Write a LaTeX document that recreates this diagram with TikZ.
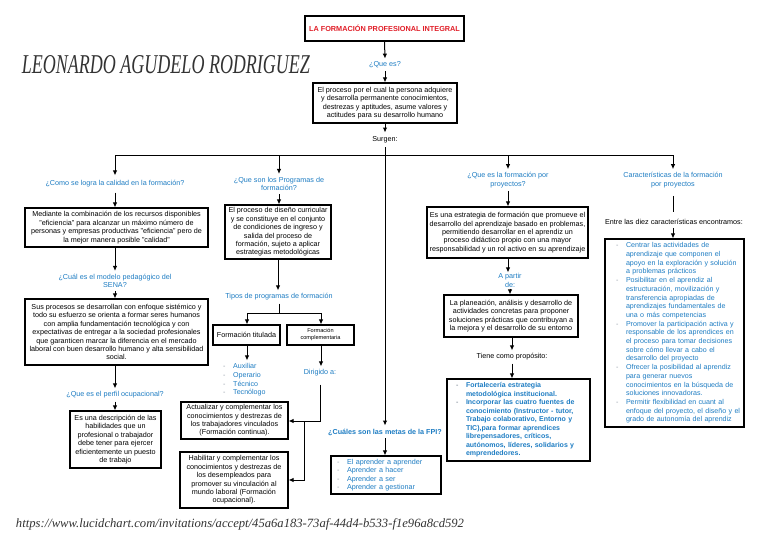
\documentclass[tikz,border=0pt]{standalone}
\usepackage{fontspec}
\setmainfont{Liberation Sans}
\newfontfamily\hand{Liberation Serif}
\usepackage{graphicx}
\usetikzlibrary{arrows.meta}
\definecolor{qblue}{RGB}{30,125,195}
\definecolor{tred}{RGB}{225,30,40}
\definecolor{bgray}{RGB}{150,160,170}
\newcommand\fs{\fontsize{7.2}{8.4}\selectfont}
\newcommand\fsl{\fontsize{7.1}{8.7}\selectfont}
\newcommand\itm[1]{\mbox{\makebox[10pt][l]{\textcolor{bgray}{-}}#1}}
\newcommand\cnt[1]{\mbox{\hspace*{10pt}#1}}
\begin{document}
\begin{tikzpicture}[x=1pt,y=-1pt,
  box/.style={draw, line width=1.1pt, align=center, font=\fs, inner sep=0pt},
  lstbox/.style={draw, line width=1.1pt, align=left, text=qblue, inner ysep=0pt},
  qlab/.style={font=\fs, text=qblue, align=center, inner sep=3pt},
  lab/.style={font=\fs, align=center, inner sep=3pt},
  arr/.style={line width=1pt, -{Latex[length=5pt,width=4.5pt]}},
  con/.style={line width=1pt}
]
\useasboundingbox (0,0) rectangle (768,543);
\fill[white] (0,0) rectangle (768,543);

% header
\node[box, minimum width=159, minimum height=25, font=\fontsize{7.3}{8.4}\selectfont\bfseries, text=tred] (title) at (384.5,28.5) {LA FORMACIÓN PROFESIONAL INTEGRAL};
\node[text=black!80] (name) at (166,65) {\resizebox{288pt}{18pt}{\hand\itshape LEONARDO AGUDELO RODRIGUEZ}};
\node[qlab] (q1) at (385,65) {¿Que es?};
\node[box, minimum width=144, minimum height=40] (b1) at (385,103) {El proceso por el cual la persona adquiere\\y desarrolla permanente conocimientos,\\destrezas y aptitudes, asume valores y\\actitudes para su desarrollo humano};
\node[lab, inner sep=4pt] (surgen) at (385,140) {Surgen:};

\draw[arr] (title.south) -- (q1.north);
\draw[arr] (q1.south) -- (b1.north);
\draw[arr] (b1.south) -- (surgen.north);

\coordinate (busC) at (385,155);
\coordinate (busL) at (115,155);
\coordinate (busB) at (279,155);
\coordinate (busD) at (508,155);
\coordinate (busR) at (673,155);
\draw[con] (surgen.south) -- (busC);
\draw[con] (busL) -- (busR);

% column 1
\node[qlab, inner sep=5pt] (qA) at (115,184) {¿Como se logra la calidad en la formación?};
\node[box, minimum width=183, minimum height=39] (bA1) at (116.5,227.5) {Mediante la combinación de los recursos disponibles\\"eficiencia" para alcanzar un máximo número de\\personas y empresas productivas "eficiencia" pero de\\la mejor manera posible "calidad"};
\node[qlab] (qA2) at (115,281) {¿Cuál es el modelo pedagógico del\\SENA?};
\node[box, minimum width=183, minimum height=66] (bA2) at (116.5,332) {Sus procesos se desarrollan con enfoque sistémico y\\todo su esfuerzo se orienta a formar seres humanos\\con amplia fundamentación tecnológica y con\\expectativas de entregar a la sociedad profesionales\\que garanticen marcar la diferencia en el mercado\\laboral con buen desarrollo humano y alta sensibilidad\\social.};
\node[qlab] (qA3) at (115,395) {¿Que es el perfil ocupacional?};
\node[box, minimum width=91, minimum height=57] (bA3) at (115.5,439.5) {Es una descripción de las\\habilidades que un\\profesional o trabajador\\debe tener para ejercer\\eficientemente un puesto\\de trabajo};

\draw[arr] (busL) -- (qA.north);
\draw[arr] (qA.south) -- (qA.south |- bA1.north);
\draw[arr] (qA.south |- bA1.south) -- (qA2.north);
\draw[arr] (qA2.south) -- (qA2.south |- bA2.north);
\draw[arr] (qA2.south |- bA2.south) -- (qA3.north);
\draw[arr] (qA3.south) -- (qA3.south |- bA3.north);

% column 2
\node[qlab] (qB) at (279,184) {¿Que son los Programas de\\formación?};
\node[box, minimum width=106, minimum height=54] (bB1) at (278,232) {El proceso de diseño curricular\\y se constituye en el conjunto\\de condiciones de ingreso y\\salida del proceso de\\formación, sujeto a aplicar\\estrategias metodológicas};
\node[qlab] (qB2) at (279,297) {Tipos de programas de formación};
\node[box, minimum width=67, minimum height=20] (bB2) at (246.5,335) {Formación titulada};
\node[box, minimum width=67, minimum height=20, font=\fontsize{5.6}{7}\selectfont] (bB3) at (320.5,335) {Formación\\complementaria};
\node[font=\fsl, text=qblue, align=left, anchor=west, inner sep=3pt] (lstB) at (220,380) {\itm{Auxiliar}\\\itm{Operario}\\\itm{Técnico}\\\itm{Tecnólogo}};
\node[qlab] (dir) at (320,373) {Dirigido a:};
\node[box, minimum width=107, minimum height=37] (bB4) at (234.5,420.5) {Actualizar y complementar los\\conocimientos y destrezas de\\los trabajadores vinculados\\(Formación continua).};
\node[box, minimum width=108, minimum height=56] (bB5) at (234,480) {Habilitar y complementar los\\conocimientos y destrezas de\\los desempleados para\\promover su vinculación al\\mundo laboral (Formación\\ocupacional).};

\coordinate (tB) at (279,313);
\coordinate (tBL) at (247,313);
\coordinate (tBR) at (321,313);
\coordinate (d1) at (320,421);
\coordinate (d2) at (304,421);
\coordinate (d3) at (304,480);
\draw[arr] (busB) -- (qB.north);
\draw[arr] (qB.south) -- (qB.south |- bB1.north);
\draw[arr] (bB1.south) -- (bB1.south |- qB2.north);
\draw[con] (qB2.south) -- (tB);
\draw[con] (tBL) -- (tBR);
\draw[arr] (tBL) -- (tBL |- bB2.north);
\draw[arr] (tBR) -- (tBR |- bB3.north);
\draw[arr] (tBL |- bB2.south) -- (tBL |- lstB.north);
\draw[arr] (tBR |- bB3.south) -- (tBR |- dir.north);
\draw[arr, shorten <=5pt] (dir.south) -- (d1) -- (d1 -| bB4.east);
\draw[arr] (d2) -- (d3) -- (d3 -| bB5.east);

% center column
\node[qlab, font=\fs\bfseries] (qC) at (385,432) {¿Cuáles son las metas de la FPI?};
\node[lstbox, font=\fs, text width=98, inner xsep=6, minimum height=38] (bC) at (386,475) {\itm{El aprender a aprender}\\\itm{Aprender a hacer}\\\itm{Aprender a ser}\\\itm{Aprender a gestionar}};
\draw[arr] (busC) -- (qC.north);
\draw[arr] (qC.south) -- (qC.south |- bC.north);

% column 4
\node[qlab] (qD) at (508,180) {¿Que es la formación por\\proyectos?};
\node[box, minimum width=161, minimum height=51] (bD1) at (507.5,232.5) {Es una estrategia de formación que promueve el\\desarrollo del aprendizaje basado en problemas,\\permitiendo desarrollar en el aprendiz un\\proceso didáctico propio con una mayor\\responsabilidad y un rol activo en su aprendizaje};
\node[qlab, inner sep=1pt] (qD2) at (510,280.5) {A partir\\de:};
\node[box, minimum width=134, minimum height=42] (bD2) at (511,316) {La planeación, análisis y desarrollo de\\actividades concretas para proponer\\soluciones prácticas que contribuyan a\\la mejora y el desarrollo de su entorno};
\node[lab] (qD3) at (512,357) {Tiene como propósito:};
\node[lstbox, font=\fontsize{7}{8.5}\selectfont\bfseries, text width=125, inner xsep=9, minimum height=82] (bD3) at (518.5,420) {\itm{Fortalecería estrategia}\\\cnt{metodológica institucional.}\\\itm{Incorporar las cuatro fuentes de}\\\cnt{conocimiento (Instructor - tutor,}\\\cnt{Trabajo colaborativo, Entorno y}\\\cnt{TIC),para formar aprendices}\\\cnt{librepensadores, críticos,}\\\cnt{autónomos, líderes, solidarios y}\\\cnt{emprendedores.}};
\draw[arr] (busD) -- (qD.north);
\draw[arr] (qD.south) -- (qD.south |- bD1.north);
\draw[arr] (qD.south |- bD1.south) -- (qD.south |- qD2.north);
\draw[arr] (qD2.south) -- (qD2.south |- bD2.north);
\draw[arr] (qD3.north |- bD2.south) -- (qD3.north);
\draw[arr] (qD3.south) -- (qD3.south |- bD3.north);

% column 5
\node[qlab] (qE) at (673,180) {Características de la formación\\por proyectos};
\node[lab] (entre) at (674,222) {Entre las diez características encontramos:};
\node[lstbox, font=\fsl, text width=117, inner xsep=11, minimum height=188] (bE) at (674.5,333) {\itm{Centrar las actividades de}\\\cnt{aprendizaje que componen el}\\\cnt{apoyo en la exploración y solución}\\\cnt{a problemas prácticos}\\\itm{Posibilitar en el aprendiz al}\\\cnt{estructuración, movilización y}\\\cnt{transferencia apropiadas de}\\\cnt{aprendizajes fundamentales de}\\\cnt{una o más competencias}\\\itm{Promover la participación activa y}\\\cnt{responsable de los aprendices en}\\\cnt{el proceso para tomar decisiones}\\\cnt{sobre cómo llevar a cabo el}\\\cnt{desarrollo del proyecto}\\\itm{Ofrecer la posibilidad al aprendiz}\\\cnt{para generar nuevos}\\\cnt{conocimientos en la búsqueda de}\\\cnt{soluciones innovadoras.}\\\itm{Permitir flexibilidad en cuant al}\\\cnt{enfoque del proyecto, el diseño y el}\\\cnt{grado de autonomía del aprendiz}};
\draw[arr] (busR) -- (qE.north);
\draw[con, shorten <=5pt, shorten >=4pt] (qE.south) -- (qE.south |- entre.north);
\draw[arr] (qE.south |- entre.south) -- (qE.south |- bE.north);

% footer
\node[text=black!80] (url) at (240,524) {\resizebox{448pt}{!}{\hand\itshape https://www.lucidchart.com/invitations/accept/45a6a183-73af-44d4-b533-f1e96a8cd592}};
\end{tikzpicture}
\end{document}
